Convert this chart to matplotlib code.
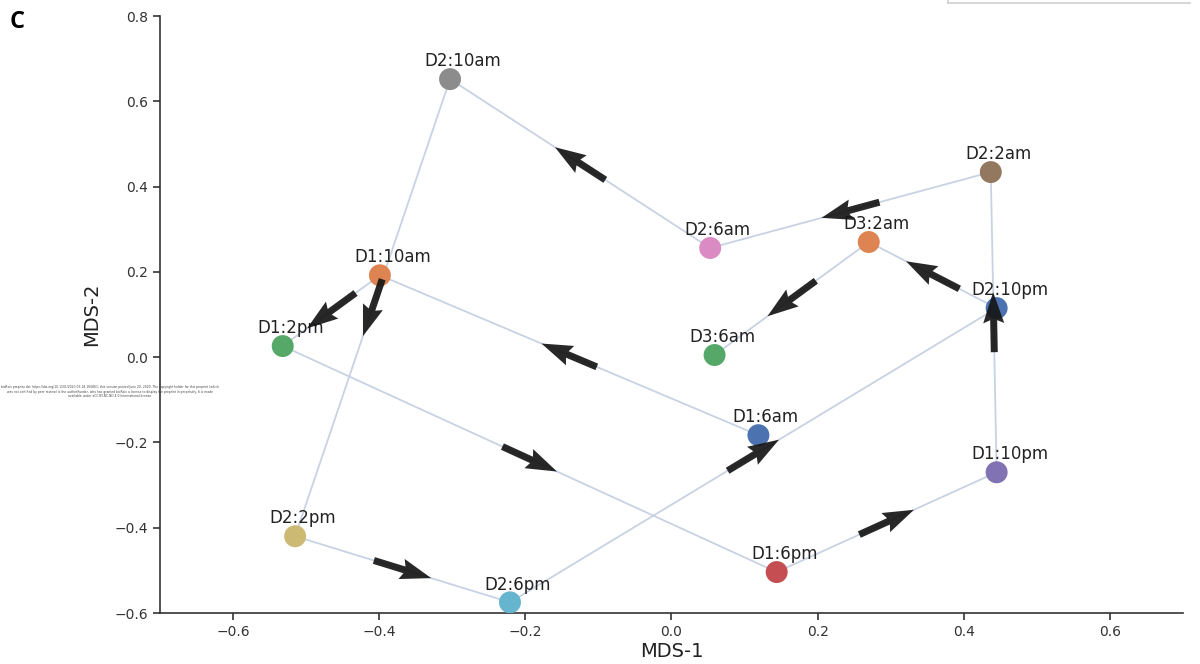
import numpy as np
import matplotlib
matplotlib.use("Agg")
import matplotlib.pyplot as plt
from matplotlib.patches import Polygon

# sample labels in time order, with their MDS coordinates
labels = ["D1:6am", "D1:10am", "D1:2pm", "D1:6pm", "D1:10pm", "D2:2am", "D2:6am",
          "D2:10am", "D2:2pm", "D2:6pm", "D2:10pm", "D3:2am", "D3:6am"]
mds1 = [0.119, -0.399, -0.532, 0.144, 0.445, 0.437, 0.053,
        -0.303, -0.515, -0.221, 0.445, 0.270, 0.059]
mds2 = [-0.183, 0.192, 0.026, -0.504, -0.270, 0.434, 0.256,
        0.652, -0.420, -0.575, 0.115, 0.270, 0.005]

palette = ["#4C72B0", "#DD8452", "#55A868", "#C44E52", "#8172B3", "#937860",
           "#DA8BC3", "#8C8C8C", "#CCB974", "#64B5CD"]

fig = plt.figure(figsize=(12, 6.64), dpi=100)
ax = fig.add_axes([0.1333, 0.0768, 0.8525, 0.8991])
ax.set_xlim(-0.7, 0.7)
ax.set_ylim(-0.6, 0.8)

# path through time
ax.plot(mds1, mds2, color="#c9d2e3", lw=1.3, zorder=1)

for i, (x, y, lab) in enumerate(zip(mds1, mds2, labels)):
    ax.scatter(x, y, s=250, color=palette[i % len(palette)], edgecolor="none", zorder=3)
    ax.text(x - 0.035, y + 0.03, lab, fontsize=12, color="#222222", ha="left", va="baseline")

# arrow outline in pixels: along the step (u) and across it (v)
shape_u = np.array([-30, 2, -1, 30, -1, 2, -30])
shape_v = np.array([3.5, 3.5, 10.5, 0, -10.5, -3.5, -3.5])

trans = ax.transData
inv = trans.inverted()
for i in range(len(mds1) - 1):
    p0 = trans.transform((mds1[i], mds2[i]))
    p1 = trans.transform((mds1[i + 1], mds2[i + 1]))
    mid = (p0 + p1) / 2
    d = (p1 - p0) / np.linalg.norm(p1 - p0)
    n = np.array([-d[1], d[0]])
    pts = mid + np.outer(shape_u, d) + np.outer(shape_v, n)
    ax.add_patch(Polygon(inv.transform(pts), closed=True, facecolor="#151515",
                         edgecolor="none", alpha=0.92, zorder=4))

ax.spines["top"].set_visible(False)
ax.spines["right"].set_visible(False)
for s in ["left", "bottom"]:
    ax.spines[s].set_color("#333333")
    ax.spines[s].set_linewidth(1.2)
ax.set_xticks([-0.6, -0.4, -0.2, 0.0, 0.2, 0.4, 0.6])
ax.set_yticks([-0.6, -0.4, -0.2, 0.0, 0.2, 0.4, 0.6, 0.8])
ax.tick_params(labelsize=10, colors="#333333", length=5, width=1.2)
ax.set_xlabel("MDS-1", fontsize=14, color="#222222", labelpad=2)
ax.set_ylabel("MDS-2", fontsize=14, color="#222222", labelpad=10)

fig.text(0.008, 0.958, "C", fontsize=17, fontweight="bold", family="Open Sans")

# faint box edge at top right and tiny preprint notice
fig.add_artist(plt.Line2D([0.79, 0.992], [0.996, 0.996], color="#d0d0d0", lw=1.2))
fig.add_artist(plt.Line2D([0.79, 0.79], [0.996, 1.0], color="#d0d0d0", lw=1.2))
fig.text(0.092, 0.41,
         "bioRxiv preprint doi: https://doi.org/10.1101/2020.06.18.160861; this version posted June 20, 2020. The copyright holder for this preprint (which\n"
         "was not certified by peer review) is the author/funder, who has granted bioRxiv a license to display the preprint in perpetuity. It is made\n"
         "available under aCC-BY-NC-ND 4.0 International license.",
         fontsize=2.2, ha="center", va="center", color="#444444", linespacing=1.1)

fig.savefig("out.png", dpi=100)
